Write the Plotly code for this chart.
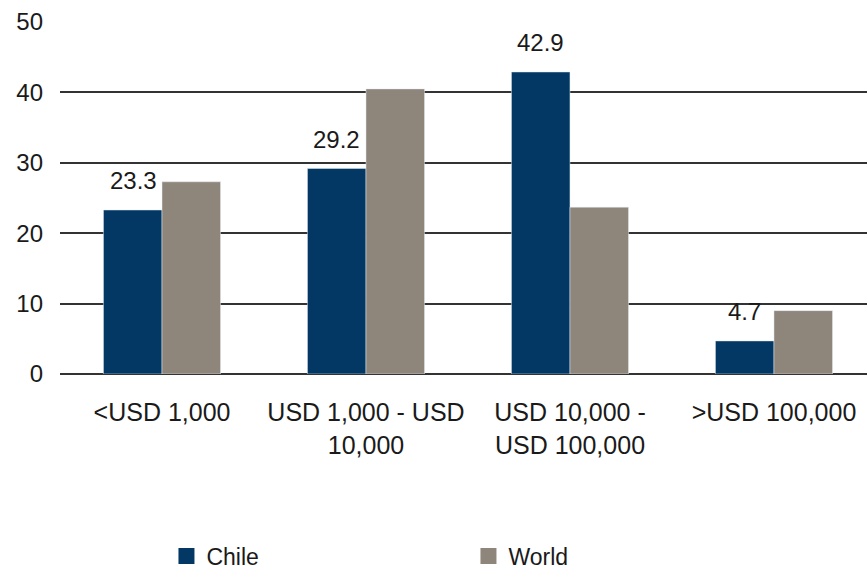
import plotly.graph_objects as go

# Data
categories = ["<USD 1,000", "USD 1,000 - USD<br>10,000", "USD 10,000 -<br>USD 100,000", ">USD 100,000"]
chile = [23.3, 29.2, 42.9, 4.7]
world = [27.3, 40.5, 23.7, 9.0]
y_ticks = [0, 10, 20, 30, 40, 50]
series_names = ["Chile", "World"]

CHILE_COLOR = "#033865"
WORLD_COLOR = "#8e857b"
TEXT_COLOR = "#1a1a1a"
FONT = "Liberation Sans, Arial, sans-serif"

fig = go.Figure()
fig.add_trace(go.Bar(x=categories, y=chile, name=series_names[0], marker_color=CHILE_COLOR, showlegend=False))
fig.add_trace(go.Bar(x=categories, y=world, name=series_names[1], marker_color=WORLD_COLOR, showlegend=False))

# Legend entries with larger square swatches
for name, color in zip(series_names, [CHILE_COLOR, WORLD_COLOR]):
    fig.add_trace(go.Scatter(
        x=[None], y=[None], mode="markers", name=name,
        marker=dict(symbol="square", size=16, color=color),
    ))

# Value labels above the Chile bars
for cat, val in zip(categories, chile):
    fig.add_annotation(
        x=cat, y=val, text=f"{val:.1f}", showarrow=False,
        xshift=-29, yshift=29, yanchor="middle", xanchor="center",
        font=dict(family=FONT, size=24, color=TEXT_COLOR),
    )

fig.update_layout(
    width=867, height=570,
    margin=dict(l=60, r=0, t=22, b=196),
    paper_bgcolor="white", plot_bgcolor="white",
    barmode="group", bargap=0.426, bargroupgap=0,
    font=dict(family=FONT, size=24, color=TEXT_COLOR),
    showlegend=True,
    legend=dict(
        orientation="h", xref="container", x=0.192, xanchor="left",
        yref="container", y=0.0246, yanchor="middle",
        entrywidth=257, entrywidthmode="pixels",
        font=dict(family=FONT, size=23, color=TEXT_COLOR),
        bgcolor="rgba(0,0,0,0)",
    ),
)
fig.update_xaxes(
    range=[-0.5, 3.456], showgrid=False, zeroline=False, showline=False,
    ticks="", tickfont=dict(family=FONT, size=25, color=TEXT_COLOR),
    ticklabelstandoff=21,
)
fig.update_yaxes(
    range=[0, 50], tickvals=y_ticks, showgrid=True, gridcolor="#333333", gridwidth=1.5,
    zeroline=True, zerolinecolor="#333333", zerolinewidth=1.5, showline=False,
    ticks="", tickfont=dict(family=FONT, size=24, color=TEXT_COLOR),
    ticklabelstandoff=16,
)

fig.write_html("out.html")
